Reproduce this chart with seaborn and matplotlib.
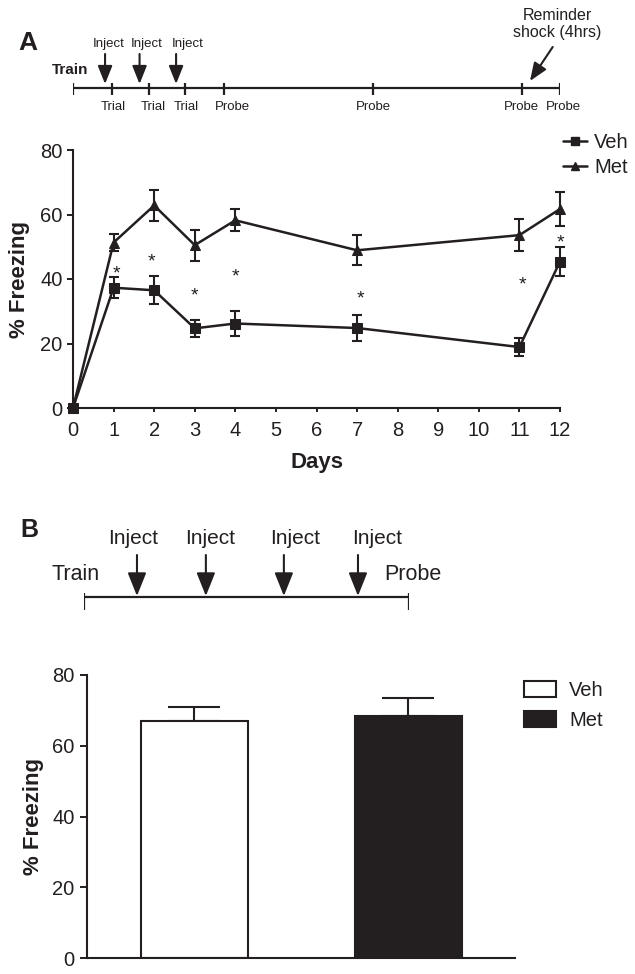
import numpy as np
import pandas as pd
import matplotlib
matplotlib.use("Agg")
import matplotlib.pyplot as plt
import seaborn as sns
from matplotlib.lines import Line2D
from matplotlib.patches import Patch

# ---------------- data ----------------
days = [0, 1, 2, 3, 4, 7, 11, 12]
veh_mean = [0, 37.3, 36.5, 24.7, 26.2, 24.8, 18.9, 45.4]
veh_sem = [0, 3.2, 4.4, 2.7, 3.8, 4.0, 2.8, 4.4]
met_mean = [0, 51.3, 62.8, 50.5, 58.2, 48.9, 53.6, 61.7]
met_sem = [0, 2.6, 4.8, 4.8, 3.4, 4.7, 5.0, 5.4]
star_days = [1.07, 1.93, 3.0, 4.0, 7.08, 11.08, 12.0]
star_y = [43.6, 47.4, 36.8, 42.6, 35.9, 40.2, 53.1]
x_ticks_a = list(range(0, 13))
y_ticks = [0, 20, 40, 60, 80]

groups_b = ["Veh", "Met"]
b_mean = [67.0, 68.4]
b_sem = [3.9, 5.0]

# timeline A (positions in day units)
tl_a_ticks = [0, 0.95, 1.87, 2.77, 3.73, 7.4, 11.07, 12]
tl_a_inject_arrows = [0.79, 1.64, 2.54]
tl_a_inject_labels = [0.89, 1.82, 2.83]
tl_a_session_pos = [1.0, 1.99, 2.79, 3.92, 7.41, 11.06, 12.08]
tl_a_session_txt = ["Trial", "Trial", "Trial", "Probe", "Probe", "Probe", "Probe"]

# timeline B (relative positions 0..1)
tl_b_arrows = [0.163, 0.375, 0.615, 0.843]
tl_b_labels = [0.151, 0.388, 0.649, 0.902]

K = "#231f20"

sns.set_style("ticks")
plt.rcParams["font.family"] = ["Liberation Sans", "DejaVu Sans"]
plt.rcParams["text.color"] = K
plt.rcParams["axes.edgecolor"] = K
plt.rcParams["xtick.color"] = K
plt.rcParams["ytick.color"] = K
plt.rcParams["axes.labelcolor"] = K

W, H = 635, 974
fig = plt.figure(figsize=(W / 100, H / 100), dpi=100)


def px_rect(x0, y0, x1, y1):
    return [x0 / W, 1 - y1 / H, (x1 - x0) / W, (y1 - y0) / H]


# ---------------- timeline A ----------------
tla = fig.add_axes(px_rect(73, 0, 560, 120))
tla.set_xlim(0, 12)
tla.set_ylim(120, 0)
tla.axis("off")
tla.hlines(88, 0, 12, color=K, lw=1.6)
tla.vlines(tl_a_ticks, 83, 95, color=K, lw=1.6)
for d in tl_a_inject_arrows:
    tla.annotate("", xy=(d, 84), xytext=(d, 54),
                 arrowprops=dict(arrowstyle="-|>,head_length=0.55,head_width=0.22",
                                 mutation_scale=20, lw=1.5, color=K, shrinkA=0, shrinkB=0))
for d in tl_a_inject_labels:
    tla.text(d, 44, "Inject", ha="center", va="center", fontsize=9.5)
for d, t in zip(tl_a_session_pos, tl_a_session_txt):
    tla.text(d, 107, t, ha="center", va="center", fontsize=9.5)
tla.text(-0.07, 70, "Train", ha="center", va="center", fontsize=11, fontweight="bold")
tla.text(11.94, 24, "Reminder\nshock (4hrs)", ha="center", va="center", fontsize=11.5,
         linespacing=1.1)
tla.annotate("", xy=(11.26, 81), xytext=(11.82, 47),
             arrowprops=dict(arrowstyle="-|>,head_length=0.55,head_width=0.22",
                             mutation_scale=20, lw=1.5, color=K, shrinkA=0, shrinkB=0))
fig.text(18 / W, 1 - 43 / H, "A", fontsize=19, fontweight="bold", ha="left", va="center")

# ---------------- panel A line chart ----------------
axa = fig.add_axes(px_rect(73, 150, 560, 408))
df = pd.DataFrame({
    "Days": days + days,
    "Freezing": veh_mean + met_mean,
    "Group": ["Veh"] * len(days) + ["Met"] * len(days),
})
sns.lineplot(data=df, x="Days", y="Freezing", hue="Group", style="Group",
             markers={"Veh": "s", "Met": "^"}, dashes=False,
             palette={"Veh": K, "Met": K}, lw=1.8, markersize=7,
             markeredgecolor=K, ax=axa, legend=False, clip_on=False, zorder=3)
axa.errorbar(days, veh_mean, yerr=veh_sem, fmt="none", ecolor=K, elinewidth=1.5,
             capsize=3.3, capthick=1.5, clip_on=False)
axa.errorbar(days, met_mean, yerr=met_sem, fmt="none", ecolor=K, elinewidth=1.5,
             capsize=3.3, capthick=1.5, clip_on=False)
for d, y in zip(star_days, star_y):
    axa.annotate("*", xy=(d, y), xytext=(0, -8), textcoords="offset points",
                 ha="center", va="baseline", fontsize=14)
axa.set_xlim(0, 12)
axa.set_ylim(0, 80)
axa.set_xticks(x_ticks_a)
axa.set_yticks(y_ticks)
axa.tick_params(axis="x", length=3, width=1.4, labelsize=14.5, pad=6)
axa.tick_params(axis="y", length=4.5, width=1.4, labelsize=14.5, pad=3)
for s in ["left", "bottom"]:
    axa.spines[s].set_linewidth(1.5)
sns.despine(ax=axa)
axa.set_xlabel("Days", fontsize=16, fontweight="bold", labelpad=9)
axa.set_ylabel("% Freezing", fontsize=16, fontweight="bold", labelpad=7)
handles_a = [
    Line2D([], [], color=K, lw=1.8, marker="s", markersize=6),
    Line2D([], [], color=K, lw=1.8, marker="^", markersize=6),
]
axa.legend(handles_a, ["Veh", "Met"], loc="upper left",
           bbox_to_anchor=(563 / W, 1 - 133 / H), bbox_transform=fig.transFigure,
           frameon=False, fontsize=14.5, handlelength=1.2, handletextpad=0.35,
           borderaxespad=0, borderpad=0, labelspacing=0.3)

# ---------------- timeline B ----------------
tlb = fig.add_axes(px_rect(84, 480, 409, 630))
tlb.set_xlim(0, 1)
tlb.set_ylim(630, 480)
tlb.axis("off")
tlb.hlines(597, 0, 1, color=K, lw=1.6)
tlb.vlines([0, 1], 593, 610, color=K, lw=1.6)
for d in tl_b_arrows:
    tlb.annotate("", xy=(d, 596), xytext=(d, 555),
                 arrowprops=dict(arrowstyle="-|>,head_length=0.65,head_width=0.26",
                                 mutation_scale=22, lw=1.5, color=K, shrinkA=0, shrinkB=0))
for d in tl_b_labels:
    tlb.text(d, 538, "Inject", ha="center", va="center", fontsize=15)
tlb.text(-0.025, 575, "Train", ha="center", va="center", fontsize=15.5)
tlb.text(1.012, 575, "Probe", ha="center", va="center", fontsize=15.5)
fig.text(20 / W, 1 - 530 / H, "B", fontsize=18, fontweight="bold", ha="left", va="center")

# ---------------- panel B bars ----------------
axb = fig.add_axes(px_rect(87, 675, 515, 958))
sns.barplot(x=groups_b, y=b_mean, hue=groups_b, palette={"Veh": "white", "Met": K},
            edgecolor=K, linewidth=1.5, width=0.5, ax=axb, legend=False,
            errorbar=None, saturation=1)
axb.errorbar([0, 1], b_mean, yerr=[[0, 0], b_sem], fmt="none", ecolor=K,
             elinewidth=1.5, capsize=19, capthick=1.5, zorder=0)
axb.set_xlim(-0.5, 1.5)
axb.set_ylim(0, 80)
axb.set_yticks(y_ticks)
axb.set_xticks([])
axb.tick_params(axis="y", length=5, width=1.4, labelsize=14.5, pad=4)
for s in ["left", "bottom"]:
    axb.spines[s].set_linewidth(1.5)
sns.despine(ax=axb)
axb.set_ylabel("% Freezing", fontsize=16, fontweight="bold", labelpad=6)
handles_b = [
    Patch(facecolor="white", edgecolor=K, lw=1.5),
    Patch(facecolor=K, edgecolor=K, lw=1.5),
]
axb.legend(handles_b, ["Veh", "Met"], loc="upper left",
           bbox_to_anchor=(524 / W, 1 - 681 / H), bbox_transform=fig.transFigure,
           frameon=False, fontsize=14.5, handlelength=1.6, handleheight=0.8,
           handletextpad=0.65, borderaxespad=0, borderpad=0, labelspacing=0.55)

fig.savefig("out.png", dpi=100)
